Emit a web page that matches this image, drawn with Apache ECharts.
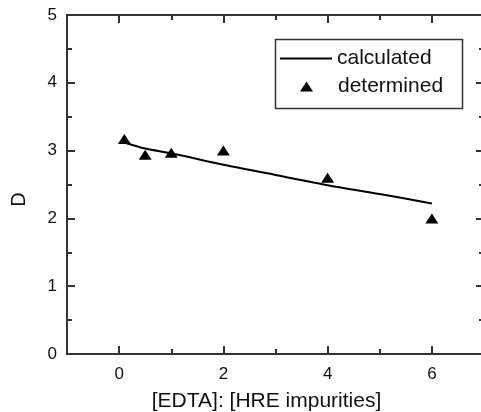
<!DOCTYPE html>
<html>
  <head>
    <meta charset="utf-8">
    <title>D vs EDTA</title>
    <style>
    html,body,#chart {
      margin: 0;
      padding: 0;
      width: 481px;
      height: 412px;
      background: #fff;
    }
    </style>
  </head>
  <body>
    <div id="chart"></div>
    <script src="https://cdn.jsdelivr.net/npm/echarts@6/dist/echarts.min.js"></script>
    <script type="text/javascript">
      // calculated curve
      var calcX = [0.1, 0.5, 1, 2, 3, 4, 5, 6]
      var calcD = [3.12, 3.03, 2.96, 2.79, 2.64, 2.49, 2.36, 2.22]
      // measured points
      var detX = [0.1, 0.5, 1, 2, 4, 6]
      var detD = [3.17, 2.94, 2.97, 3.0, 2.6, 2.0]
      var xMajor = [0, 2, 4, 6]
      var xMinor = [1, 3, 5]

      var font = '"Liberation Sans", Arial, sans-serif'
      var axisCol = '#333'
      var gridBox = {left: 67, top: 15, right: -3, bottom: 58, outerBoundsMode: 'none'}

      function pairs(xs, ys) {
        return xs.map(function (x, i) { return [x, ys[i]] })
      }

      // x axis builder; major ticks labelled, minor ticks go on a twin grid
      function xAx(pos, grid, ticks, len, labels) {
        return {
          type: 'value', min: -1, max: 7, interval: 1, position: pos, gridIndex: grid,
          axisLine: {show: grid === 0, onZero: false, lineStyle: {color: axisCol, width: 2}},
          axisTick: {inside: true, length: len, customValues: ticks,
            lineStyle: {color: axisCol, width: 2}},
          axisLabel: labels ? {fontSize: 17, color: '#111', margin: 12, fontFamily: font,
            customValues: xMajor} : {show: false},
          splitLine: {show: false}
        }
      }

      function yAx(pos) {
        return {
          type: 'value', min: 0, max: 5, interval: 1, position: pos,
          axisLine: {show: true, onZero: false, lineStyle: {color: axisCol, width: 2}},
          axisTick: {show: true, inside: true, length: 8, lineStyle: {color: axisCol, width: 2}},
          minorTick: {show: true, splitNumber: 2, length: 5, lineStyle: {color: axisCol, width: 2}},
          axisLabel: pos === 'left' ? {fontSize: 17, color: '#111', margin: 10, fontFamily: font}
            : {show: false},
          splitLine: {show: false}
        }
      }

      var xBottom = xAx('bottom', 0, xMajor, 8, true)
      xBottom.name = '[EDTA]: [HRE impurities]'
      xBottom.nameLocation = 'middle'
      xBottom.nameGap = 37
      xBottom.nameTextStyle = {fontSize: 21, color: '#111', fontFamily: font, padding: [0, 18, 0, 0]}

      var yLeft = yAx('left')
      yLeft.name = 'D'
      yLeft.nameLocation = 'middle'
      yLeft.nameGap = 38
      yLeft.nameTextStyle = {fontSize: 20, color: '#111', fontFamily: font, padding: [0, 30, 0, 0]}

      var chart = echarts.init(document.getElementById('chart'))
      chart.setOption({
        animation: false,
        textStyle: {fontFamily: font},
        grid: [gridBox, Object.assign({}, gridBox)],
        xAxis: [
          xBottom,
          xAx('top', 0, xMajor, 8, false),
          xAx('bottom', 1, xMinor, 5, false),
          xAx('top', 1, xMinor, 5, false)
        ],
        yAxis: [
          yLeft,
          yAx('right'),
          {type: 'value', min: 0, max: 5, gridIndex: 1, show: false}
        ],
        legend: [
          {
            data: [{name: 'calculated', icon: 'rect'}],
            left: 280, top: 48, padding: 0,
            itemWidth: 52, itemHeight: 2,
            textStyle: {fontSize: 21, color: '#111', fontFamily: font}
          },
          {
            data: [{name: 'determined', icon: 'triangle'}],
            left: 300, top: 76, padding: 0,
            itemWidth: 13, itemHeight: 10,
            itemStyle: {opacity: 1},
            textStyle: {fontSize: 21, color: '#111', fontFamily: font, padding: [0, 0, 0, 20]}
          }
        ],
        graphic: [{
          type: 'rect', left: 273, top: 37,
          shape: {width: 187, height: 69},
          style: {fill: 'none', stroke: axisCol, lineWidth: 1.5}
        }],
        series: [
          {
            name: 'calculated', type: 'line', smooth: 0.3,
            xAxisIndex: 0, yAxisIndex: 0,
            data: pairs(calcX, calcD),
            showSymbol: false, symbol: 'none',
            lineStyle: {color: '#000', width: 2},
            itemStyle: {color: '#000'}
          },
          {
            name: 'determined', type: 'scatter',
            xAxisIndex: 0, yAxisIndex: 0,
            data: pairs(detX, detD),
            symbol: 'triangle', symbolSize: [13, 10],
            itemStyle: {color: '#000', opacity: 1}
          }
        ]
      })
    </script>
  </body>
</html>
